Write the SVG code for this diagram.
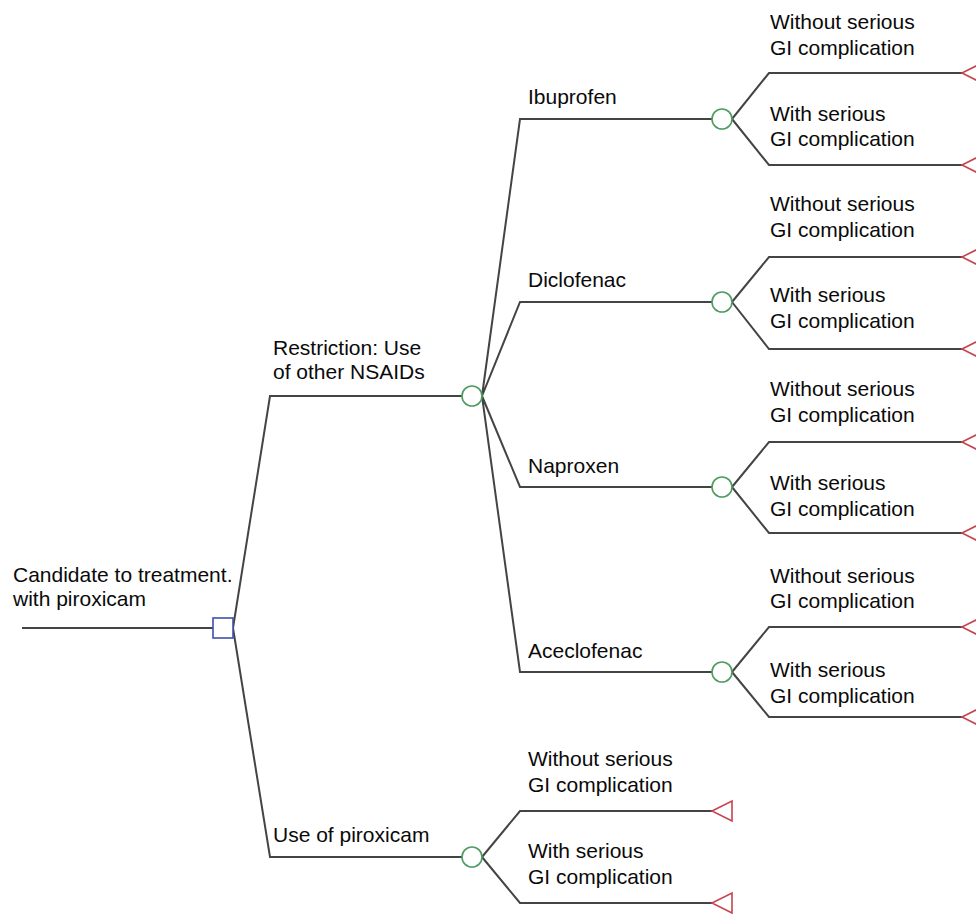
<svg xmlns="http://www.w3.org/2000/svg" width="976" height="914" viewBox="0 0 976 914">
<style>
text{font-family:"Liberation Sans",Arial,sans-serif;font-size:21px;fill:#0a0a0a}
.ln{fill:none;stroke:#444;stroke-width:2}
.ch{fill:#fff;stroke:#4f9a60;stroke-width:1.6}
.dc{fill:#fff;stroke:#3f4fb0;stroke-width:1.6}
.tm{fill:#fff;stroke:#c4454f;stroke-width:1.6}
</style>
<rect width="976" height="914" fill="#fff"/>
<g id="connectors">
<path class="ln" d="M22 628H213"/>
<path class="ln" d="M233 628L270 396H463M233 628L270 857H462"/>
<path class="ln" d="M482 396L520 119H712M482 396L520 302H712M482 396L520 487H712M482 396L520 672H712"/>
<path class="ln" d="M482 857L520 811H712M482 857L520 903H712"/>
<path class="ln" d="M732 119L769 73H962M732 119L769 165H962"/>
<path class="ln" d="M732 302L769 257H962M732 302L769 349H962"/>
<path class="ln" d="M732 487L769 442H962M732 487L769 533H962"/>
<path class="ln" d="M732 672L769 627H962M732 672L769 717H962"/>
</g>
<g id="root"><text x="13" y="582">Candidate to treatment.</text><text x="13" y="606">with piroxicam</text></g>
<g id="decision"><rect class="dc" x="213" y="618" width="20" height="20"/></g>
<g id="restriction"><text x="273" y="355">Restriction: Use</text><text x="273" y="379">of other NSAIDs</text><circle class="ch" cx="472" cy="396" r="10"/></g>
<g id="piroxicam"><text x="273" y="842">Use of piroxicam</text><circle class="ch" cx="472" cy="857" r="10"/></g>
<g id="ibuprofen"><text x="528" y="104">Ibuprofen</text><circle class="ch" cx="722" cy="119" r="10"/></g>
<g id="diclofenac"><text x="528" y="287">Diclofenac</text><circle class="ch" cx="722" cy="302" r="10"/></g>
<g id="naproxen"><text x="528" y="473">Naproxen</text><circle class="ch" cx="722" cy="487" r="10"/></g>
<g id="aceclofenac"><text x="528" y="658">Aceclofenac</text><circle class="ch" cx="722" cy="672" r="10"/></g>
<g id="ibu-without"><text x="770" y="29">Without serious</text><text x="770" y="55">GI complication</text><polygon class="tm" points="962,73 982,63 982,83"/></g>
<g id="ibu-with"><text x="770" y="121">With serious</text><text x="770" y="146">GI complication</text><polygon class="tm" points="962,165 982,155 982,175"/></g>
<g id="dic-without"><text x="770" y="211">Without serious</text><text x="770" y="237">GI complication</text><polygon class="tm" points="962,257 982,247 982,267"/></g>
<g id="dic-with"><text x="770" y="302">With serious</text><text x="770" y="328">GI complication</text><polygon class="tm" points="962,349 982,339 982,359"/></g>
<g id="nap-without"><text x="770" y="396">Without serious</text><text x="770" y="422">GI complication</text><polygon class="tm" points="962,442 982,432 982,452"/></g>
<g id="nap-with"><text x="770" y="490">With serious</text><text x="770" y="516">GI complication</text><polygon class="tm" points="962,533 982,523 982,543"/></g>
<g id="ace-without"><text x="770" y="583">Without serious</text><text x="770" y="608">GI complication</text><polygon class="tm" points="962,627 982,617 982,637"/></g>
<g id="ace-with"><text x="770" y="677">With serious</text><text x="770" y="703">GI complication</text><polygon class="tm" points="962,717 982,707 982,727"/></g>
<g id="pir-without"><text x="528" y="766">Without serious</text><text x="528" y="792">GI complication</text><polygon class="tm" points="712,811 732,801 732,821"/></g>
<g id="pir-with"><text x="528" y="858">With serious</text><text x="528" y="884">GI complication</text><polygon class="tm" points="712,903 732,893 732,913"/></g>
</svg>
